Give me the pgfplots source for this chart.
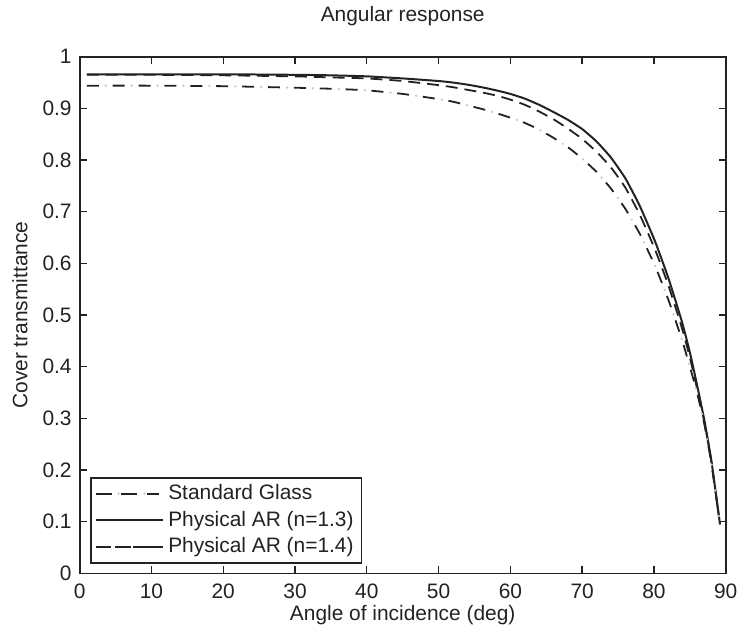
\documentclass[border=0pt]{standalone}
\usepackage{fontspec}
\setmainfont{Liberation Sans}
\usepackage{pgfplots}
\usepackage{pgfplotstable}
\pgfplotsset{compat=1.18}
\definecolor{ln}{HTML}{222222}
\pgfplotstableread{
x     std    ara    arb
1     0.944  0.966  0.965
10    0.944  0.966  0.965
20    0.943  0.966  0.964
30    0.940  0.965  0.962
35    0.938  0.964  0.960
40    0.935  0.962  0.958
45    0.928  0.958  0.953
50    0.918  0.953  0.945
52    0.913  0.950  0.941
54    0.906  0.946  0.936
56    0.899  0.941  0.931
58    0.891  0.935  0.925
60    0.882  0.928  0.917
62    0.872  0.919  0.907
64    0.859  0.907  0.894
66    0.843  0.893  0.879
68    0.825  0.878  0.861
70    0.803  0.860  0.841
72    0.777  0.836  0.816
74    0.745  0.805  0.786
76    0.706  0.765  0.747
78    0.658  0.712  0.695
80    0.600  0.648  0.632
81    0.566  0.611  0.596
82    0.530  0.572  0.558
83    0.490  0.528  0.515
84    0.448  0.482  0.470
85    0.400  0.428  0.418
86    0.350  0.365  0.358
87    0.290  0.298  0.294
88    0.213  0.218  0.216
89.2  0.095  0.095  0.095
}\curves
\begin{document}
\begin{tikzpicture}
\begin{axis}[
  scale only axis,
  width=324.5pt, height=259.5pt,
  xmin=0, xmax=90, ymin=0, ymax=1,
  xtick={0,10,...,90},
  ytick={0,0.1,...,1},
  yticklabels={0,0.1,0.2,0.3,0.4,0.5,0.6,0.7,0.8,0.9,1},
  tick align=inside,
  major tick length=3.5pt,
  axis line style={line width=0.9pt, color=ln},
  every tick/.style={line width=0.7pt, color=ln},
  /pgf/number format/assume math mode=true,
  tick label style={font=\fontsize{10.5}{12}\selectfont, color=ln},
  xticklabel style={yshift=-1.5pt},
  yticklabel style={xshift=-0.5pt},
  label style={font=\fontsize{10.5}{12}\selectfont, color=ln},
  title style={font=\fontsize{10.5}{12}\selectfont, color=ln, at={(axis description cs:0.5,1.055)}, anchor=center},
  title={Angular response},
  xlabel={Angle of incidence (deg)},
  ylabel={Cover transmittance},
  xlabel style={at={(axis description cs:0.5,-0.081)}, anchor=center},
  ylabel style={at={(axis description cs:-0.0925,0.5)}, anchor=center},
  legend style={at={(rel axis cs:0.0156,0.019)}, anchor=south west, draw=ln, line width=0.9pt,
    font=\fontsize{10.5}{12}\selectfont, row sep=0.2pt, inner xsep=2pt, inner ysep=1.5pt, text=ln},
  legend cell align=left,
]
\addplot[ln, line width=0.9pt, dash pattern=on 6pt off 7pt, smooth, tension=0.3,
  legend image code/.code={
    \path (-2pt,0pt) -- (32pt,0pt);
    \draw[ln, line width=0.9pt, dash pattern=on 6pt off 7pt] (0pt,0pt) -- (28pt,0pt);
    \draw[black!22, line width=1.2pt, line cap=round, dash pattern=on 0.01pt off 13pt, dash phase=-9.5pt] (0pt,0pt) -- (28pt,0pt);
  }] table[x=x, y=std] {\curves};
\addlegendentry{Standard Glass}
\addplot[ln, line width=1pt, smooth, tension=0.3,
  legend image code/.code={\path (-2pt,0pt) -- (32pt,0pt); \draw[ln, line width=1pt] (0pt,0pt) -- (28pt,0pt);}] table[x=x, y=ara] {\curves};
\addlegendentry{Physical AR (n=1.3)}
\addplot[ln, line width=0.9pt, dash pattern=on 6pt off 3.5pt, smooth, tension=0.3,
  legend image code/.code={\path (-2pt,0pt) -- (32pt,0pt); \draw[ln, line width=0.9pt, dash pattern=on 5.5pt off 5pt] (0pt,0pt) -- (28pt,0pt);}] table[x=x, y=arb] {\curves};
\addlegendentry{Physical AR (n=1.4)}
\addplot[black!22, line width=1.3pt, dash pattern=on 0.01pt off 13pt, dash phase=-9.5pt, line cap=round, smooth, tension=0.3, forget plot] table[x=x, y=std] {\curves};
\end{axis}
\path (current axis.south west) ++(-40pt,-29pt) rectangle ([xshift=7.5pt,yshift=21pt]current axis.north east);
\end{tikzpicture}
\end{document}
